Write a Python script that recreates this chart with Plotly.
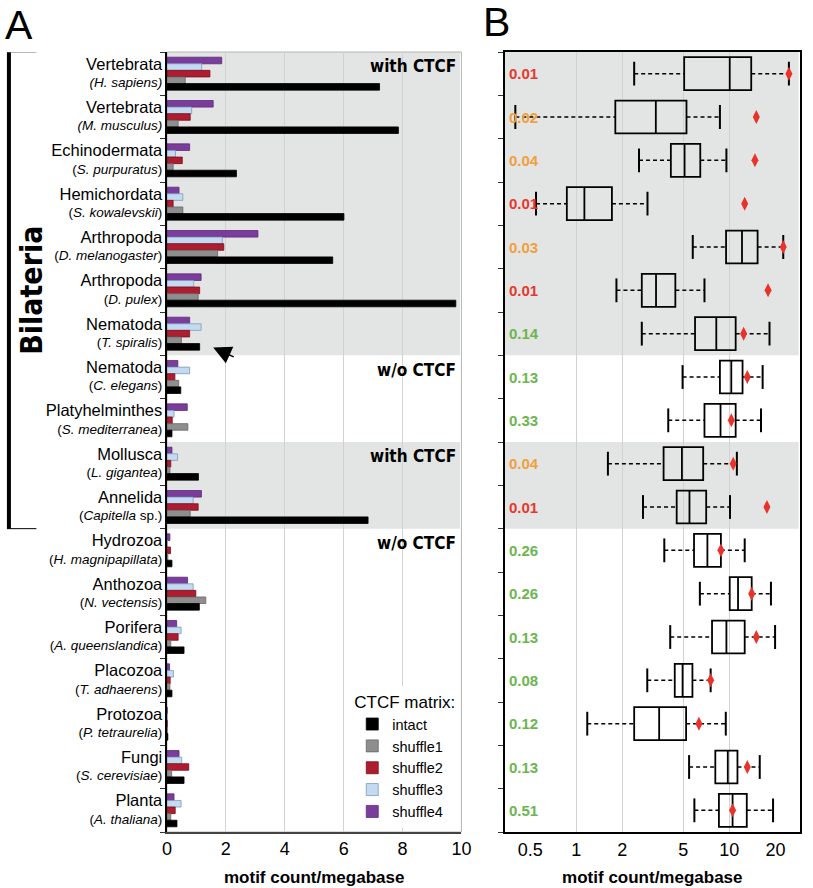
import plotly.graph_objects as go

# ---------------- data ----------------
keys = ["H. sapiens", "M. musculus", "S. purpuratus", "S. kowalevskii", "D. melanogaster",
        "D. pulex", "T. spiralis", "C. elegans", "S. mediterranea", "L. gigantea",
        "Capitella sp.", "H. magnipapillata", "N. vectensis", "A. queenslandica",
        "T. adhaerens", "P. tetraurelia", "S. cerevisiae", "A. thaliana"]
taxa = ["Vertebrata", "Vertebrata", "Echinodermata", "Hemichordata", "Arthropoda",
        "Arthropoda", "Nematoda", "Nematoda", "Platyhelminthes", "Mollusca",
        "Annelida", "Hydrozoa", "Anthozoa", "Porifera", "Placozoa", "Protozoa",
        "Fungi", "Planta"]
species_html = ["<i>(H. sapiens)</i>", "<i>(M. musculus)</i>", "(<i>S. purpuratus</i>)",
                "(<i>S. kowalevskii</i>)", "(<i>D. melanogaster</i>)", "(<i>D. pulex</i>)",
                "(<i>T. spiralis</i>)", "(<i>C. elegans</i>)", "(<i>S. mediterranea</i>)",
                "(<i>L. gigantea</i>)", "(<i>Capitella</i> sp.)", "(<i>H. magnipapillata</i>)",
                "(<i>N. vectensis</i>)", "(<i>A. queenslandica</i>)", "(<i>T. adhaerens</i>)",
                "(<i>P. tetraurelia</i>)", "(<i>S. cerevisiae</i>)", "(<i>A. thaliana</i>)"]

intact   = [7.22, 7.86, 2.36, 6.01, 5.63, 9.81, 1.11, 0.47, 0.17, 1.07, 6.83, 0.17, 1.10, 0.58, 0.17, 0.03, 0.58, 0.34]
shuffle1 = [0.62, 0.38, 0.21, 0.54, 1.72, 1.06, 0.49, 0.40, 0.71, 0.10, 0.79, 0.03, 1.32, 0.13, 0.10, 0.01, 0.16, 0.13]
shuffle2 = [1.46, 0.79, 0.52, 0.21, 1.93, 1.11, 0.77, 0.27, 0.18, 0.13, 1.06, 0.12, 0.98, 0.38, 0.11, 0.01, 0.74, 0.28]
shuffle3 = [1.18, 0.84, 0.29, 0.54, 1.88, 0.91, 1.16, 0.77, 0.24, 0.36, 0.89, 0.02, 0.89, 0.48, 0.22, 0.01, 0.50, 0.48]
shuffle4 = [1.86, 1.57, 0.77, 0.41, 3.09, 1.16, 0.77, 0.37, 0.69, 0.17, 1.17, 0.10, 0.70, 0.33, 0.09, 0.01, 0.41, 0.24]

lower_fence = [2.39, 0.40, 2.57, 0.546, 5.77, 1.83, 2.68, 4.95, 3.99, 1.61, 2.73, 3.76, 6.42, 4.11, 2.91, 1.18, 5.46, 5.91]
q1          = [5.07, 1.80, 4.15, 0.868, 9.52, 2.68, 5.97, 8.68, 6.88, 3.72, 4.53, 5.88, 10.06, 7.71, 4.40, 2.39, 8.10, 8.55]
median      = [10.06, 3.31, 5.10, 1.13, 12.1, 3.32, 8.22, 10.3, 8.76, 4.90, 5.49, 7.19, 11.4, 9.57, 4.95, 3.48, 9.77, 10.5]
q3          = [13.9, 5.25, 6.46, 1.71, 15.3, 4.44, 11.0, 12.2, 11.0, 6.75, 7.06, 8.81, 14.0, 12.6, 5.74, 5.22, 11.3, 13.0]
upper_fence = [24.5, 8.68, 9.57, 2.92, 22.5, 6.88, 18.3, 16.5, 16.1, 11.2, 10.1, 12.6, 18.7, 19.9, 7.55, 9.48, 15.8, 19.3]
observed    = [24.5, 15.0, 14.7, 12.6, 22.5, 17.9, 12.4, 13.1, 10.3, 10.6, 17.6, 8.81, 14.0, 15.0, 7.55, 6.33, 13.1, 10.5]
p_values    = ["0.01", "0.02", "0.04", "0.01", "0.03", "0.01", "0.14", "0.13", "0.33", "0.04",
               "0.01", "0.26", "0.26", "0.13", "0.08", "0.12", "0.13", "0.51"]

ctcf_groups = [(0, 6, "with CTCF"), (7, 8, "w/o CTCF"), (9, 10, "with CTCF"), (11, 17, "w/o CTCF")]
bilateria_rows = (0, 10)

x_ticks_a = [0, 2, 4, 6, 8, 10]
x_ticks_b = [0.5, 1, 2, 5, 10, 20]
x_grid_b = [1, 2, 5, 10]

# ---------------- style ----------------
FONT = "Liberation Sans, Arial, Helvetica, sans-serif"
NARROW = "Liberation Sans Narrow, DejaVu Sans Condensed, Arial Narrow, sans-serif"
SHADE = "#e3e4e4"
GRID = "#d2d2d2"
W, H = 813, 888
ML, MR, MT, MB = 0, 0, 52, 56
PH = H - MT - MB

series = [  # drawn top -> bottom within each group
    ("shuffle4", shuffle4, "#7a3d9b", "#5c2a78", 5),
    ("shuffle3", shuffle3, "#c3daf0", "#7d9bbb", 4),
    ("shuffle2", shuffle2, "#ad1c2f", "#7a1020", 3),
    ("shuffle1", shuffle1, "#8e8e8e", "#666666", 2),
    ("intact",   intact,   "#000000", "#000000", 1),
]

fig = go.Figure()
for name, vals, col, edge, rank in series:
    fig.add_trace(go.Bar(x=vals, y=keys, orientation="h", name=name,
                         marker=dict(color=col, line=dict(color=edge, width=0.8)),
                         legendrank=rank, xaxis="x", yaxis="y"))

# Panel B: boxes (whiskers drawn separately, dashed), caps, observed diamonds
fig.add_trace(go.Box(y=keys, q1=q1, median=median, q3=q3, lowerfence=q1, upperfence=q3,
                     orientation="h", width=0.76, whiskerwidth=0,
                     fillcolor="rgba(0,0,0,0)", line=dict(color="black", width=1.8),
                     showlegend=False, hoverinfo="skip", xaxis="x2", yaxis="y2"))
wx, wy = [], []
for k, lf, a, b, uf in zip(keys, lower_fence, q1, q3, upper_fence):
    wx += [lf, a, None, b, uf, None]
    wy += [k, k, None, k, k, None]
fig.add_trace(go.Scatter(x=wx, y=wy, mode="lines", line=dict(color="black", width=1.5, dash="4px,3px"),
                         showlegend=False, hoverinfo="skip", xaxis="x2", yaxis="y2"))
fig.add_trace(go.Scatter(x=lower_fence + upper_fence, y=keys + keys, mode="markers",
                         marker=dict(symbol="line-ns", size=17, line=dict(color="black", width=2)),
                         showlegend=False, hoverinfo="skip", xaxis="x2", yaxis="y2"))
fig.add_trace(go.Scatter(x=observed, y=keys, mode="markers",
                         marker=dict(symbol="diamond-tall", size=10, color="#e8322a",
                                     line=dict(width=0)),
                         showlegend=False, hoverinfo="skip", xaxis="x2", yaxis="y2"))

ticktext = [f"<span style='font-size:16.5px'>{t}</span><br>{s}" for t, s in zip(taxa, species_html)]
n = len(keys)
yrange = [n - 0.5, -0.5]


def px_x(p):
    return p / W


def px_y(p):
    return (H - MB - p) / PH


dom_a = [px_x(165), px_x(465)]
dom_b = [px_x(509), px_x(810)]

fig.update_layout(
    width=W, height=H, margin=dict(l=ML, r=MR, t=MT, b=MB),
    paper_bgcolor="white", plot_bgcolor="rgba(0,0,0,0)",
    font=dict(family=FONT, color="black", size=15),
    barmode="group", bargap=0.24, bargroupgap=0,
    xaxis=dict(domain=dom_a, range=[0, 10], tickvals=x_ticks_a, showgrid=True, gridcolor=GRID,
               gridwidth=1, zeroline=False, showline=True, linecolor="#444444", linewidth=1.5,
               ticks="", tickfont=dict(size=18), anchor="y",
               title=dict(text="<b>motif count/megabase</b>", font=dict(size=17), standoff=13)),
    yaxis=dict(domain=[0, 1], type="category", categoryarray=keys, range=yrange,
               tickmode="array", tickvals=keys, ticktext=ticktext, tickfont=dict(size=13.5),
               ticks="outside", tickson="boundaries", ticklen=5, tickcolor="#333",
               showline=True, linecolor="black", linewidth=2, showgrid=False, zeroline=False,
               anchor="x"),
    xaxis2=dict(domain=dom_b, type="log", range=[-0.468, 1.462], tickmode="array",
                tickvals=x_ticks_b, ticktext=[str(v) for v in x_ticks_b], showgrid=False,
                minor=dict(tickmode="array", tickvals=x_grid_b, showgrid=True, gridcolor=GRID,
                           gridwidth=1, ticks=""),
                zeroline=False, showline=True, mirror=True, linecolor="black", linewidth=2,
                ticks="", tickfont=dict(size=18), anchor="y2",
                title=dict(text="<b>motif count/megabase</b>", font=dict(size=17), standoff=13)),
    yaxis2=dict(domain=[0, 1], type="category", categoryarray=keys, range=yrange,
                tickmode="array", tickvals=keys, showticklabels=False,
                ticks="outside", tickson="boundaries", ticklen=5, tickcolor="#333",
                showline=True, mirror=True, linecolor="black", linewidth=2, showgrid=False,
                zeroline=False, anchor="x2"),
    legend=dict(title=dict(text="CTCF matrix:", font=dict(size=17), side="top"),
                font=dict(size=14.5), x=0.568, xanchor="right", y=4 / PH, yanchor="bottom",
                bgcolor="white", traceorder="normal", itemwidth=30, tracegroupgap=0),
)

shapes = []
for start, end, label in ctcf_groups:
    if label == "with CTCF":
        for xr, yr in (("x domain", "y"), ("x2 domain", "y2")):
            shapes.append(dict(type="rect", xref=xr, yref=yr, x0=0, x1=0.995,
                               y0=start - 0.5, y1=end + 0.5, fillcolor=SHADE,
                               line=dict(width=0), layer="below"))
# panel A light frame
shapes.append(dict(type="rect", xref="x domain", yref="y domain", x0=0, x1=1, y0=0, y1=1,
                   line=dict(color="#b5b5b5", width=1), layer="below"))
# Bilateria bracket
b0, b1 = bilateria_rows
shapes.append(dict(type="line", xref="paper", yref="y", x0=px_x(4), x1=px_x(4),
                   y0=b0 - 0.5, y1=b1 + 0.5, line=dict(color="black", width=4)))
shapes.append(dict(type="line", xref="paper", yref="y", x0=px_x(2), x1=px_x(32),
                   y0=b0 - 0.5, y1=b0 - 0.5, line=dict(color="#777", width=1)))
shapes.append(dict(type="line", xref="paper", yref="y", x0=px_x(2), x1=px_x(32),
                   y0=b1 + 0.5, y1=b1 + 0.5, line=dict(color="black", width=1)))
fig.update_layout(shapes=shapes)

ann = []
# panel letters
ann.append(dict(text="A", xref="paper", yref="paper", x=px_x(14), y=px_y(25),
                showarrow=False, font=dict(size=41, family=FONT), xanchor="center", yanchor="middle"))
ann.append(dict(text="B", xref="paper", yref="paper", x=px_x(501), y=px_y(22),
                showarrow=False, font=dict(size=41, family=FONT), xanchor="center", yanchor="middle"))
# Bilateria
ann.append(dict(text="<b>Bilateria</b>", xref="paper", yref="y", x=px_x(27),
                y=(b0 + b1) / 2, textangle=-90, showarrow=False,
                font=dict(size=30, family=NARROW), xanchor="center", yanchor="middle"))
# group labels
for start, end, label in ctcf_groups:
    ann.append(dict(text=f"<b>{label}</b>", xref="x domain", yref="y", x=0.99,
                    y=start - 0.17, showarrow=False, xanchor="right", yanchor="middle",
                    font=dict(size=17, family=NARROW)))


# p-values
def pcol(p):
    v = float(p)
    if v <= 0.01:
        return "#e5392f"
    if v <= 0.05:
        return "#f0a03c"
    return "#6cb650"


for i, p in enumerate(p_values):
    ann.append(dict(text=f"<b>{p}</b>", xref="x2 domain", yref="y2", x=0.008, y=i,
                    showarrow=False, xanchor="left", yanchor="middle",
                    font=dict(size=15, color=pcol(p))))
# arrowhead near T. spiralis
ann.append(dict(text="", xref="x", yref="y", x=1.57, y=6.32, ax=22, ay=10,
                showarrow=True, arrowhead=2, arrowsize=2.4, arrowwidth=1.5, arrowcolor="black"))
fig.update_layout(annotations=ann)

fig.write_html("out.html", config={"displayModeBar": False},
               post_script="document.body.style.margin='0px';document.body.style.padding='0px';")
